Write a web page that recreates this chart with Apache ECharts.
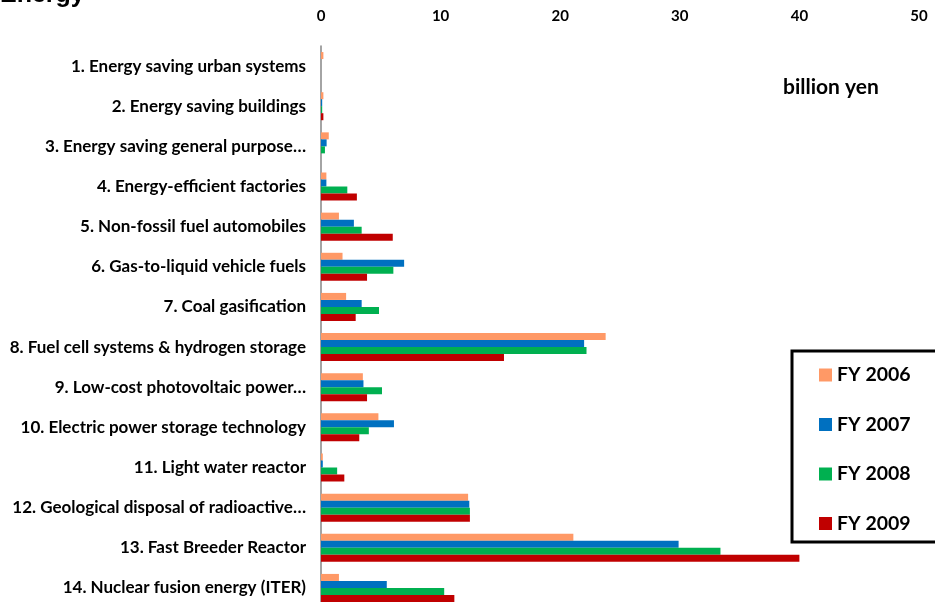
<!DOCTYPE html>
<html>
<head>
<meta charset="utf-8">
<script src="https://cdn.jsdelivr.net/npm/echarts@6/dist/echarts.min.js"></script>
<style>
  html, body { margin: 0; padding: 0; background: #fff; }
  #chart { width: 935px; height: 602px; }
</style>
</head>
<body>
<div id="chart"></div>
<script>
// categories as printed (long ones are cut off in the source)
const projects = [
  "1. Energy saving urban systems",
  "2. Energy saving buildings",
  "3. Energy saving general purpose…",
  "4. Energy-efficient factories",
  "5. Non-fossil fuel automobiles",
  "6. Gas-to-liquid vehicle fuels",
  "7. Coal gasification",
  "8. Fuel cell systems & hydrogen storage",
  "9. Low-cost photovoltaic power…",
  "10. Electric power storage technology",
  "11. Light water reactor",
  "12. Geological disposal of radioactive…",
  "13. Fast Breeder Reactor",
  "14. Nuclear fusion energy (ITER)"
];

// billion yen
const fy2006 = [0.2, 0.2, 0.65, 0.45, 1.5, 1.8, 2.1, 23.8, 3.5, 4.8, 0.15, 12.3, 21.1, 1.5];
const fy2007 = [0, 0.1, 0.47, 0.45, 2.75, 6.95, 3.4, 22.0, 3.55, 6.1, 0.15, 12.4, 29.9, 5.5];
const fy2008 = [0, 0.1, 0.33, 2.2, 3.4, 6.05, 4.85, 22.2, 5.1, 4.0, 1.35, 12.45, 33.4, 10.3];
const fy2009 = [0, 0.2, 0, 3.0, 6.0, 3.85, 2.9, 15.3, 3.85, 3.2, 1.95, 12.45, 40.0, 11.15];

const seriesNames = ["FY 2006", "FY 2007", "FY 2008", "FY 2009"];
const seriesColors = ["#FF9966", "#0070C0", "#00B050", "#C00000"];
const seriesData = [fy2006, fy2007, fy2008, fy2009];

const font = "Lato";

const chart = echarts.init(document.getElementById("chart"));

chart.setOption({
  animation: false,
  textStyle: { fontFamily: font },
  // plot runs a little past the bottom edge, like the source
  grid: { left: 321, right: 16, top: 46, height: 562, outerBoundsMode: "none" },
  xAxis: {
    type: "value",
    position: "top",
    min: 0,
    max: 50,
    interval: 10,
    axisLine: { show: false },
    axisTick: { show: false },
    splitLine: { show: false },
    axisLabel: { color: "#000", fontWeight: "bold", fontSize: 15, margin: 22, fontFamily: font }
  },
  yAxis: {
    type: "category",
    inverse: true,
    data: projects,
    axisLine: { lineStyle: { color: "#868686", width: 1.5 } },
    axisTick: { length: 5, lineStyle: { color: "#868686", width: 1.5 } },
    axisLabel: { color: "#000", fontWeight: "bold", fontSize: 17, margin: 15, fontFamily: font }
  },
  legend: {
    orient: "vertical",
    left: 814,
    top: 360,
    itemWidth: 13,
    itemHeight: 13,
    itemGap: 29.5,
    icon: "rect",
    data: seriesNames,
    textStyle: { color: "#000", fontWeight: "bold", fontSize: 19.5, fontFamily: font }
  },
  graphic: [
    {
      type: "text",
      left: 0,
      top: -17,
      style: { text: "Energy", fill: "#000", font: "bold 25px 'Liberation Sans'" }
    },
    {
      type: "text",
      left: 783,
      top: 77,
      style: { text: "billion yen", fill: "#000", font: "bold 21px " + font }
    },
    {
      type: "rect",
      shape: { x: 792, y: 351, width: 160, height: 191 },
      style: { fill: "none", stroke: "#000", lineWidth: 3 },
      z: 10
    }
  ],
  series: seriesNames.map((name, i) => ({
    name: name,
    type: "bar",
    data: seriesData[i],
    barWidth: 7,
    barGap: "0%",
    itemStyle: { color: seriesColors[i] }
  }))
});
</script>
</body>
</html>
